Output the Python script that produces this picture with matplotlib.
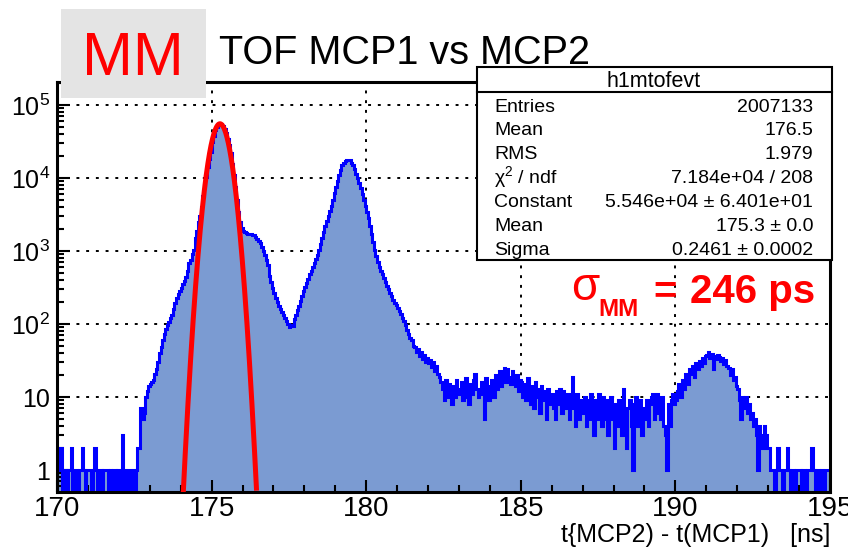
import numpy as np
import matplotlib
matplotlib.use('Agg')
import matplotlib.pyplot as plt
from matplotlib.patches import Rectangle
from matplotlib.lines import Line2D
from matplotlib.ticker import MultipleLocator, LogLocator, FuncFormatter, NullFormatter

plt.rcParams['font.family'] = ['Liberation Sans', 'DejaVu Sans']
plt.rcParams['mathtext.fontset'] = 'custom'
plt.rcParams['mathtext.rm'] = 'Liberation Sans'
plt.rcParams['mathtext.it'] = 'Liberation Sans'
plt.rcParams['mathtext.bf'] = 'Liberation Sans:bold'

# histogram binning (ns)
x_min, x_max, bin_w = 170.0, 195.0, 0.05

# bin contents, one line per ns (20 bins of 0.05 ns)
counts = [
    1, 1, 2, 0, 1, 1, 0, 1, 1, 2, 0, 1, 1, 0, 1, 1, 2, 1, 0, 1,                      # 170
    1, 1, 0, 1, 2, 1, 0, 1, 1, 0, 1, 1, 1, 0, 1, 0, 1, 1, 0, 1,                      # 171
    1, 0, 3, 1, 0, 0, 1, 0, 0, 1, 0, 1, 2, 2, 7, 5, 6, 10, 12, 14,                   # 172
    15, 16, 17, 21, 24, 30, 40, 48, 60, 72, 86, 98, 108, 120, 132, 160, 195, 225, 255, 285,   # 173
    310, 350, 390, 440, 530, 680, 760, 900, 1050, 1500, 1900, 2500, 3000, 4000, 5600, 8000,
    10500, 14000, 18000, 23000,                                                      # 174
    31000, 38000, 45000, 50000, 54000, 55500, 54500, 51500, 47000, 41000, 34000, 28000,
    22000, 15500, 11000, 7500, 5000, 3400, 2500, 2050,                               # 175
    1900, 1800, 1750, 1720, 1700, 1690, 1680, 1650, 1580, 1480, 1380, 1270, 1150, 1000,
    880, 760, 640, 460, 380, 310,                                                    # 176
    265, 230, 200, 178, 160, 145, 132, 120, 110, 100, 90, 98, 94, 118, 135, 155, 175, 205, 240, 280,  # 177
    320, 370, 420, 480, 540, 610, 690, 770, 880, 1050, 1250, 1500, 1800, 2200, 2600, 3000,
    3500, 4100, 5000, 6200,                                                          # 178
    7600, 9200, 11000, 13000, 15000, 16300, 17300, 17800, 17900, 17400, 16300, 15000, 13200,
    11300, 9900, 8600, 7300, 6100, 5000, 4100,                                       # 179
    3400, 2800, 2200, 1700, 1350, 1050, 850, 700, 600, 540, 480, 430, 380, 330, 300, 270,
    240, 215, 195, 180,                                                              # 180
    168, 150, 138, 122, 110, 96, 84, 72, 64, 60, 50, 49, 42, 45, 37, 41, 33, 38, 30, 34,   # 181
    29, 32, 26, 30, 23, 27, 21, 19, 16, 13, 9, 17, 10, 15, 12, 8, 14, 10, 17, 11,          # 182
    13, 16, 9, 14, 18, 10, 8, 15, 11, 17, 21, 13, 10, 12, 16, 11, 5, 18, 14, 9,           # 183
    12, 17, 10, 20, 13, 18, 23, 14, 21, 25, 16, 24, 19, 15, 23, 18, 14, 20, 12, 17,        # 184
    16, 10, 15, 9, 18, 11, 8, 14, 7, 16, 10, 13, 6, 14, 9, 12, 5, 13, 8, 11,               # 185
    11, 7, 5, 12, 8, 13, 6, 12, 8, 7, 11, 5, 10, 19, 7, 4, 11, 5, 9, 6,                    # 186
    7, 10, 4, 9, 5, 11, 6, 3, 9, 5, 11, 6, 4, 10, 5, 9, 3, 7, 10, 5,                       # 187
    2, 8, 4, 9, 5, 3, 13, 6, 2, 7, 9, 4, 1, 8, 10, 4, 6, 9, 3, 7,                          # 188
    5, 9, 4, 8, 10, 11, 5, 9, 11, 6, 5, 10, 4, 3, 1, 8, 4, 9, 11, 8,                       # 189
    9, 12, 15, 10, 17, 13, 21, 18, 15, 24, 21, 27, 19, 29, 24, 31, 27, 34, 29, 36,         # 190
    38, 42, 34, 39, 24, 37, 33, 38, 35, 31, 34, 28, 32, 27, 25, 20, 24, 17, 19, 14,        # 191
    13, 9, 5, 10, 7, 10, 6, 8, 5, 6, 4, 5, 3, 1, 4, 3, 2, 4, 3, 2,                         # 192
    2, 1, 1, 1, 0, 1, 2, 1, 1, 0, 1, 1, 2, 1, 0, 1, 1, 0, 1, 1,                            # 193
    1, 0, 1, 1, 0, 1, 1, 1, 2, 1, 0, 1, 1, 0, 1, 0, 0, 1, 1, 1,                            # 194
]

# gaussian fit (from the stats box)
fit_const, fit_mean, fit_sigma = 5.546e4, 175.27, 0.2461
fit_lo, fit_hi = 174.05, 176.45

stats_title = 'h1mtofevt'
stats_names = ['Entries', 'Mean', 'RMS', 'χ$^{2}$ / ndf', 'Constant', 'Mean', 'Sigma']
stats_values = ['2007133', '176.5', '1.979', '7.184e+04 / 208',
                '5.546e+04 ± 6.401e+01', '175.3 ± 0.0', '0.2461 ± 0.0002']

W, H = 848, 547


def fx(px):
    return px / W


def fy(py):
    return 1 - py / H


fig = plt.figure(figsize=(W / 100, H / 100), dpi=100)
ax = fig.add_axes([fx(57), fy(492), fx(830) - fx(57), fy(82) - fy(492)])

counts = np.array(counts, dtype=float)
edges = x_min + bin_w * np.arange(len(counts) + 1)
shown = np.where(counts > 0, counts, 0.05)

ax.set_yscale('log')
ax.stairs(shown, edges, fill=True, color='#7b9bd2', baseline=0.05, zorder=1)
ax.stairs(shown, edges, color='#0000ff', linewidth=2.2, zorder=2)

xf = np.linspace(fit_lo, fit_hi, 400)
yf = fit_const * np.exp(-0.5 * ((xf - fit_mean) / fit_sigma) ** 2)
ax.plot(xf, yf, color='red', linewidth=3.6, zorder=3)

ax.set_xlim(x_min, x_max)
ax.set_ylim(0.5, 2.07e5)

# dotted grid behind the histogram
for v in [175, 180, 185, 190]:
    ax.axvline(v, color='black', linestyle=(0, (1.5, 3.5)), linewidth=1.4, zorder=0.5)
for v in [1, 10, 1e2, 1e3, 1e4, 1e5]:
    ax.axhline(v, color='black', linestyle=(0, (1.5, 3.5)), linewidth=1.4, zorder=0.5)

ax.xaxis.set_major_locator(MultipleLocator(5))
ax.xaxis.set_minor_locator(MultipleLocator(1))
ax.yaxis.set_major_locator(LogLocator(base=10, numticks=12))
ax.yaxis.set_minor_locator(LogLocator(base=10, subs=np.arange(2, 10), numticks=12))
ax.yaxis.set_minor_formatter(NullFormatter())


def ylab(v, pos):
    e = int(round(np.log10(v)))
    if e == 0:
        return '1'
    if e == 1:
        return '10'
    return '$10^{%d}$' % e


ax.yaxis.set_major_formatter(FuncFormatter(ylab))
ax.tick_params(which='both', direction='in', top=False, right=False, width=1.5, colors='black')
ax.tick_params(which='major', length=9)
ax.tick_params(which='minor', length=5)
ax.tick_params(axis='x', labelsize=20, pad=3)
ax.tick_params(axis='y', labelsize=18, pad=5)
for s in ax.spines.values():
    s.set_linewidth(2.2)

ax.set_xlabel('t{MCP2) - t(MCP1)   [ns]', fontsize=18, ha='right', va='baseline')
ax.xaxis.set_label_coords(1.0, (492 - 542) / (492 - 82))

# "MM" label box (covers the frame)
fig.add_artist(Rectangle((fx(61), fy(98)), fx(206) - fx(61), fy(9) - fy(98),
                         transform=fig.transFigure, facecolor='#e4e4e4', edgecolor='none', zorder=5))
fig.text(fx(133), fy(75), 'MM', color='red', fontsize=44, ha='center', va='baseline', zorder=6)
fig.text(fx(219), fy(64), 'TOF MCP1 vs MCP2', fontsize=28.5, ha='left', va='baseline')

# stats box
fig.add_artist(Rectangle((fx(477), fy(260)), fx(832) - fx(477), fy(67) - fy(260),
                         transform=fig.transFigure, facecolor='white', edgecolor='black',
                         linewidth=1.5, zorder=5))
fig.add_artist(Line2D([fx(477), fx(832)], [fy(92), fy(92)], transform=fig.transFigure,
                      color='black', linewidth=1.5, zorder=6))
fig.text(fx(654), fy(87), stats_title, fontsize=15.5, ha='center', va='baseline', zorder=7)
for i, (name, val) in enumerate(zip(stats_names, stats_values)):
    yb = 111.5 + i * 23.9
    fig.text(fx(494), fy(yb), name, fontsize=14, ha='left', va='baseline', zorder=7)
    fig.text(fx(813), fy(yb), val, fontsize=14, ha='right', va='baseline', zorder=7)

# resolution label
fig.text(fx(571), fy(300), 'σ', color='red', fontsize=33, ha='left', va='baseline', zorder=7)
fig.text(fx(598), fy(316), 'MM', color='red', fontsize=17.5, fontweight='bold',
         ha='left', va='baseline', zorder=7)
fig.text(fx(665), fy(303), '=', color='red', fontsize=29, fontweight='bold',
         ha='center', va='baseline', zorder=7)
fig.text(fx(690), fy(303), '246 ps', color='red', fontsize=29, fontweight='bold',
         ha='left', va='baseline', zorder=7)

fig.savefig('out.png', dpi=100)
